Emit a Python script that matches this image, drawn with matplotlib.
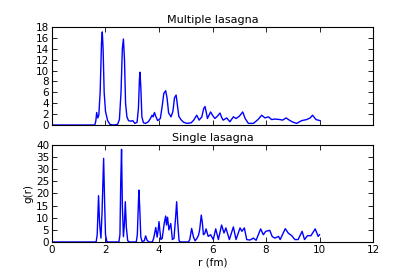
import matplotlib
matplotlib.use("Agg")
import matplotlib.pyplot as plt

# Multiple lasagna g(r)
r_multi = [0, 1.60, 1.64, 1.67, 1.71, 1.75, 1.80, 1.85, 1.88, 1.91, 1.95, 2.0, 2.08, 2.17, 2.3,
           2.45, 2.52, 2.58, 2.63, 2.67, 2.71, 2.75, 2.8, 2.86, 2.95, 3.02, 3.1, 3.18, 3.23, 3.27,
           3.29, 3.32, 3.36, 3.42, 3.5, 3.6, 3.68, 3.74, 3.78, 3.83, 3.88, 3.95, 4.05, 4.12, 4.18,
           4.25, 4.3, 4.36, 4.45, 4.52, 4.58, 4.64, 4.68, 4.74, 4.82, 4.92, 5.05, 5.2, 5.3, 5.41,
           5.5, 5.6, 5.67, 5.72, 5.76, 5.81, 5.87, 5.93, 6.0, 6.09, 6.18, 6.28, 6.35, 6.4, 6.53,
           6.65, 6.78, 6.88, 7.0, 7.13, 7.22, 7.34, 7.53, 7.7, 7.84, 7.96, 8.09, 8.21, 8.34, 8.52,
           8.62, 8.75, 8.9, 9.02, 9.15, 9.33, 9.52, 9.65, 9.74, 9.87, 10.02]
g_multi = [0, 0, 0.8, 2.3, 1.3, 1.8, 6, 15, 17.1, 14, 6, 2.5, 0.8, 0.1, 0,
           0.1, 1, 6, 14, 15.8, 12, 4, 1.5, 0.8, 0.7, 0.8, 0.3, 0.5, 3, 8.5,
           9.7, 7, 1.5, 0.4, 0.3, 0.6, 1.2, 1.8, 1.5, 2.3, 1.6, 0.8, 1.2, 3.5, 5.8,
           6.3, 5, 2.2, 1.5, 2.5, 5, 5.5, 4, 1.6, 1.0, 0.5, 0.3, 0.4, 0.9, 1.8,
           0.9, 1.5, 3, 3.4, 2.5, 1.2, 1.8, 2.4, 1.8, 1.2, 1.6, 2.2, 1.3, 0.9, 1.3,
           0.6, 1.5, 1.2, 1.6, 2.4, 1.2, 0.3, 0.3, 1.0, 1.8, 1.3, 1.5, 1.0, 1.1, 1.0,
           0.9, 1.3, 0.8, 0.5, 0.3, 0.8, 1.0, 1.3, 1.8, 1.0, 0.8]

# Single lasagna g(r)
r_single = [0, 1.65, 1.69, 1.74, 1.77, 1.79, 1.83, 1.87, 1.93, 1.97, 2.0, 2.05, 2.1, 2.5,
            2.54, 2.57, 2.6, 2.63, 2.67, 2.71, 2.74, 2.78, 2.83, 2.9, 3.15, 3.19, 3.23, 3.25,
            3.28, 3.32, 3.37, 3.45, 3.5, 3.55, 3.62, 3.75, 3.8, 3.88, 3.93, 3.97, 4.0, 4.03,
            4.07, 4.12, 4.2, 4.25, 4.28, 4.32, 4.37, 4.44, 4.5, 4.56, 4.62, 4.66, 4.7, 4.75,
            4.8, 5.1, 5.15, 5.22, 5.29, 5.35, 5.42, 5.48, 5.52, 5.58, 5.62, 5.66, 5.71, 5.76,
            5.84, 5.93, 6.03, 6.12, 6.22, 6.34, 6.43, 6.5, 6.63, 6.78, 6.88, 7.03, 7.1, 7.19,
            7.28, 7.4, 7.53, 7.63, 7.8, 7.9, 7.99, 8.14, 8.23, 8.33, 8.47, 8.53, 8.72, 8.83,
            8.96, 9.08, 9.2, 9.35, 9.44, 9.55, 9.68, 9.84, 9.95, 10.0]
g_single = [0, 0, 3, 19.1, 10, 6.3, 1.6, 12, 34.5, 15, 3, 0.2, 0, 0,
            3, 25, 38.2, 15, 2.2, 8, 16.6, 6, 0.5, 0, 0, 3, 16, 21.4,
            14, 2, 0.2, 0.5, 2.5, 0.8, 0, 0, 1.5, 6.0, 2, 5, 8.4, 5,
            1, 1.5, 8, 10.7, 7, 10.2, 5, 7.6, 1, 1.5, 10, 16.6, 8, 0.5,
            0, 0, 1, 5.6, 2, 0.5, 1.5, 2.9, 5, 11.1, 8, 3, 3.5, 5.4,
            2.3, 3, 1, 5.4, 1, 7.0, 3.7, 5.8, 1, 6.2, 1, 5.8, 4.4, 5.8,
            1, 0.8, 1.6, 0.7, 5.4, 3, 4.4, 4.8, 2.3, 1.6, 2.3, 1, 5.5, 3.7,
            2.6, 1, 1, 4.4, 1, 2.6, 2.6, 5.4, 2.3, 3]

titles = ["Multiple lasagna", "Single lasagna"]
x_ticks = [0, 2, 4, 6, 8, 10, 12]
y_ticks_multi = [0, 2, 4, 6, 8, 10, 12, 14, 16, 18]
y_ticks_single = [0, 5, 10, 15, 20, 25, 30, 35, 40]

fs = 7.5
fig = plt.figure(figsize=(4.15, 2.77), dpi=100)
ax1 = fig.add_axes([0.1253, 0.5487, 0.7735, 0.3538])
ax2 = fig.add_axes([0.1253, 0.1264, 0.7735, 0.3502])

ax1.plot(r_multi, g_multi, color="#0000ff", lw=1.0)
ax2.plot(r_single, g_single, color="#0000ff", lw=1.0)

for ax, t, yt in [(ax1, titles[0], y_ticks_multi), (ax2, titles[1], y_ticks_single)]:
    ax.set_xlim(0, 12)
    ax.set_ylim(yt[0], yt[-1])
    ax.set_xticks(x_ticks)
    ax.set_yticks(yt)
    ax.set_title(t, fontsize=fs + 0.5, pad=3)
    ax.tick_params(direction="in", top=True, right=True, labelsize=fs, length=3.5, width=0.6, pad=2)
    for s in ax.spines.values():
        s.set_linewidth(0.8)

ax1.set_xticklabels([])
ax2.set_xlabel("r (fm)", fontsize=fs, labelpad=2)
ax2.set_ylabel("g(r)", fontsize=fs, labelpad=2)

fig.savefig("out.png", dpi=100)
